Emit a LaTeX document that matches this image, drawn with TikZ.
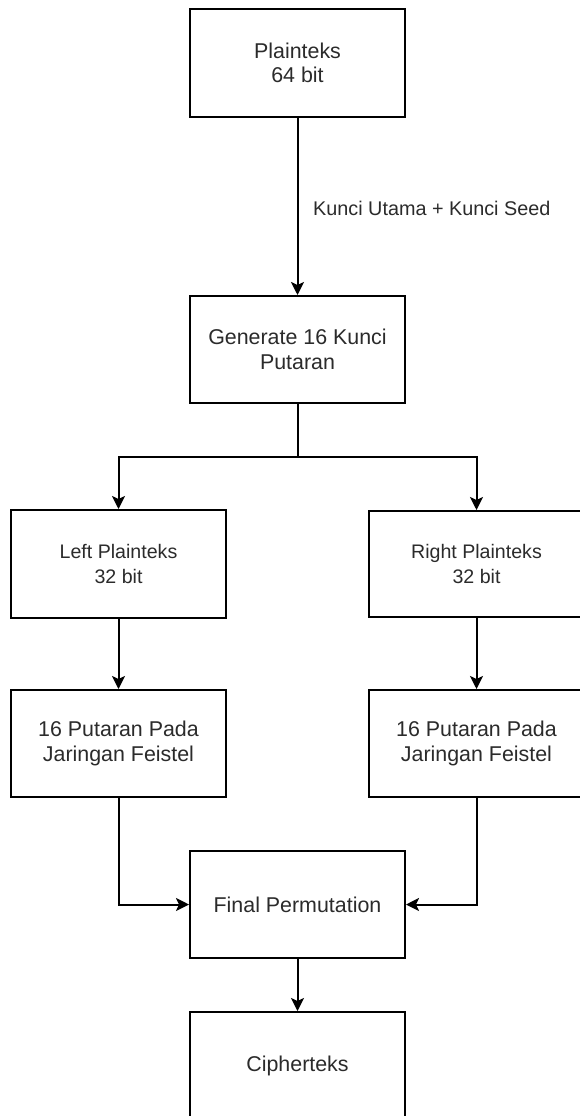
\documentclass[tikz,border=0pt]{standalone}
\usepackage{fontspec}
\setmainfont{Liberation Sans}
\usetikzlibrary{arrows.meta}
\definecolor{txt}{HTML}{2B2B2B}
\tikzset{
  x=1pt, y=-1pt,
  box/.style={draw=black, line width=2pt, minimum width=215pt, minimum height=107pt,
    inner sep=0pt, align=center, text=txt, font=\fontsize{21.4}{24.5}\selectfont},
  smallbox/.style={box, font=\fontsize{19.6}{24.5}\selectfont},
  conn/.style={draw=black, line width=2pt},
  arr/.style={conn, -{Stealth[length=13pt, width=13pt, inset=3pt]}},
  lbl/.style={text=txt, inner sep=0pt, font=\fontsize{19.8}{24}\selectfont}
}
\begin{document}
\begin{tikzpicture}
\clip (0,0) rectangle (580,1116);
\fill[white] (0,0) rectangle (580,1116);
\node[box, minimum height=108pt] (P) at (297.5,63) {Plainteks\\64 bit};
\node[box] (G) at (297.5,349.5) {Generate 16 Kunci\\Putaran};
\node[smallbox, minimum height=108pt] (L) at (118.5,564) {Left Plainteks\\32 bit};
\node[smallbox, minimum height=106pt] (R) at (476.5,564) {Right Plainteks\\32 bit};
\node[box] (LF) at (118.5,743.5) {16 Putaran Pada\\Jaringan Feistel};
\node[box] (RF) at (476.5,743.5) {16 Putaran Pada\\Jaringan Feistel};
\node[box] (F) at (297.5,904.5) {Final Permutation};
\node[box, minimum height=108pt] (C) at (297.5,1066) {Cipherteks};
\node[lbl, anchor=west] (K) at (313,208.5) {Kunci Utama + Kunci Seed};
\coordinate (split) at (297.5,457);
\draw[arr] (P) -- (G);
\draw[conn] (G) -- (split);
\draw[arr] (split) -| (L.north);
\draw[arr] (split) -| (R.north);
\draw[arr] (L) -- (LF);
\draw[arr] (R) -- (RF);
\draw[arr] (LF.south) |- (F.west);
\draw[arr] (RF.south) |- (F.east);
\draw[arr] (F) -- (C);
\end{tikzpicture}
\end{document}
